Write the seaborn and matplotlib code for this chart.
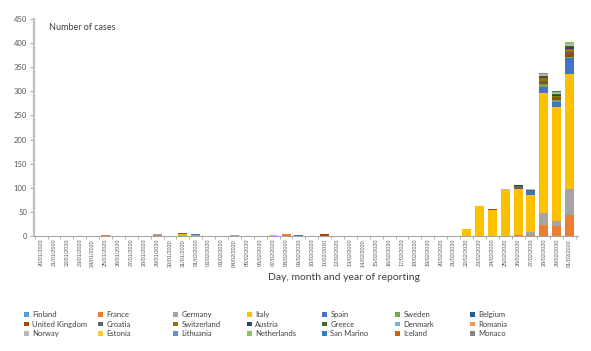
import matplotlib
matplotlib.use("Agg")
import matplotlib.pyplot as plt
import seaborn as sns
import numpy as np
from matplotlib.patches import Patch

sns.set_theme(style="ticks")
plt.rcParams['font.family'] = ['Lato', 'DejaVu Sans']

dates = ["20/01/2020", "21/01/2020", "22/01/2020", "23/01/2020", "24/01/2020", "25/01/2020",
         "26/01/2020", "27/01/2020", "28/01/2020", "29/01/2020", "30/01/2020", "31/01/2020",
         "01/02/2020", "02/02/2020", "03/02/2020", "04/02/2020", "05/02/2020", "06/02/2020",
         "07/02/2020", "08/02/2020", "09/02/2020", "10/02/2020", "11/02/2020", "12/02/2020",
         "13/02/2020", "14/02/2020", "15/02/2020", "16/02/2020", "17/02/2020", "18/02/2020",
         "19/02/2020", "20/02/2020", "21/02/2020", "22/02/2020", "23/02/2020", "24/02/2020",
         "25/02/2020", "26/02/2020", "27/02/2020", "28/02/2020", "29/02/2020", "01/03/2020"]

countries = ["Finland", "France", "Germany", "Italy", "Spain", "Sweden", "Belgium",
             "United Kingdom", "Croatia", "Switzerland", "Austria", "Greece", "Denmark", "Romania",
             "Norway", "Estonia", "Lithuania", "Netherlands", "San Marino", "Iceland", "Monaco"]

colors = ["#5B9BD5", "#ED7D31", "#A5A5A5", "#FFC000", "#4472C4", "#70AD47", "#255E91",
          "#9E480E", "#636363", "#997300", "#264478", "#43682B", "#7CAFDD", "#F1975A",
          "#B7B7B7", "#FFCD33", "#698ED0", "#8CC168", "#327DC2", "#D26012", "#848484"]

finland     = [0,0,0,0,0,0,0,0,0,1, 0,0,0,0,0,0,0,0,0,0, 0,0,0,0,0,0,0,0,0,0, 0,0,0,0,0,0,0,0,0,0, 0,0]
france      = [0,0,0,0,0,3,0,0,0,1, 0,1,0,0,0,0,0,0,0,5, 0,1,0,0,0,0,0,0,1,0, 0,0,0,0,0,0,0,2,3,22, 21,43]
germany     = [0,0,0,0,0,0,0,0,1,2, 1,1,3,1,1,2,0,0,1,0, 1,0,0,1,0,0,0,0,0,0, 0,0,0,0,0,0,0,1,6,26, 10,54]
italy       = [0,0,0,0,0,0,0,0,0,0, 0,2,0,0,0,0,0,0,1,0, 0,0,0,0,0,0,0,0,0,0, 0,0,0,14,62,53,96,94,77,249, 237,239]
spain       = [0,0,0,0,0,0,0,0,0,0, 0,0,1,0,0,0,0,0,0,0, 1,0,0,0,0,0,0,0,0,0, 0,0,0,0,0,0,0,1,7,13, 10,33]
sweden      = [0,0,0,0,0,0,0,0,0,0, 0,0,0,0,0,0,0,0,0,0, 0,0,0,0,0,0,0,0,0,0, 0,0,0,0,0,0,0,0,0,5, 5,2]
belgium     = [0,0,0,0,0,0,0,0,0,0, 0,0,0,0,0,1,0,0,0,0, 0,0,0,0,0,0,0,0,0,0, 0,0,0,0,0,0,0,0,0,0, 0,1]
uk          = [0,0,0,0,0,0,0,0,0,0, 0,2,0,0,0,0,0,0,0,0, 0,0,4,0,1,0,0,0,0,0, 0,0,0,0,0,4,0,0,0,4, 3,8]
croatia     = [0,0,0,0,0,0,0,0,0,0, 0,0,0,0,0,0,0,0,0,0, 0,0,0,0,0,0,0,0,0,0, 0,0,0,0,0,0,0,5,2,2, 2,1]
switzerland = [0,0,0,0,0,0,0,0,0,0, 0,0,0,0,0,0,0,0,0,0, 0,0,0,0,0,0,0,0,0,0, 0,0,0,0,0,0,0,1,0,6, 3,6]
austria     = [0,0,0,0,0,0,0,0,0,0, 0,0,0,0,0,0,0,0,0,0, 0,0,0,0,0,0,0,0,0,0, 0,0,0,0,0,0,0,2,0,2, 2,4]
greece      = [0,0,0,0,0,0,0,0,0,0, 0,0,0,0,0,0,0,0,0,0, 0,0,0,0,0,0,0,0,0,0, 0,0,0,0,0,0,0,0,0,2, 1,3]
denmark     = [0,0,0,0,0,0,0,0,0,0, 0,0,0,0,0,0,0,0,0,0, 0,0,0,0,0,0,0,0,0,0, 0,0,0,0,0,0,0,0,0,1, 0,1]
romania     = [0,0,0,0,0,0,0,0,0,0, 0,0,0,0,0,0,0,0,0,0, 0,0,0,0,0,0,0,0,0,0, 0,0,0,0,0,0,0,0,0,1, 1,0]
norway      = [0,0,0,0,0,0,0,0,0,0, 0,0,0,0,0,0,0,0,0,0, 0,0,0,0,0,0,0,0,0,0, 0,0,0,0,0,0,1,0,2,2, 2,3]
estonia     = [0,0,0,0,0,0,0,0,0,0, 0,0,0,0,0,0,0,0,0,0, 0,0,0,0,0,0,0,0,0,0, 0,0,0,0,0,0,0,0,0,1, 0,0]
lithuania   = [0,0,0,0,0,0,0,0,0,0, 0,0,0,0,0,0,0,0,0,0, 0,0,0,0,0,0,0,0,0,0, 0,0,0,0,0,0,0,0,0,1, 0,0]
netherlands = [0,0,0,0,0,0,0,0,0,0, 0,0,0,0,0,0,0,0,0,0, 0,0,0,0,0,0,0,0,0,0, 0,0,0,0,0,0,0,0,0,1, 2,4]
san_marino  = [0,0,0,0,0,0,0,0,0,0, 0,0,0,0,0,0,0,0,0,0, 0,0,0,0,0,0,0,0,0,0, 0,0,0,0,0,0,0,0,0,0, 1,0]
iceland     = [0,0,0,0,0,0,0,0,0,0, 0,0,0,0,0,0,0,0,0,0, 0,0,0,0,0,0,0,0,0,0, 0,0,0,0,0,0,0,0,0,1, 0,0]
monaco      = [0,0,0,0,0,0,0,0,0,0, 0,0,0,0,0,0,0,0,0,0, 0,0,0,0,0,0,0,0,0,0, 0,0,0,0,0,0,0,0,0,0, 1,0]

series = [finland, france, germany, italy, spain, sweden, belgium, uk, croatia, switzerland,
          austria, greece, denmark, romania, norway, estonia, lithuania, netherlands,
          san_marino, iceland, monaco]
for s in series:
    assert len(s) == len(dates)

cum = np.cumsum(np.array(series, dtype=float), axis=0)

W, H = 591, 351
fig = plt.figure(figsize=(W / 100, H / 100), dpi=100)
ax = fig.add_axes([34 / W, 1 - 236 / H, 544 / W, 217 / H])

# stacked bars: draw cumulative totals from top layer down
for k in range(len(countries) - 1, -1, -1):
    sns.barplot(x=dates, y=cum[k], color=colors[k], saturation=1, width=0.7,
                errorbar=None, linewidth=0, ax=ax)

ax.set_xlim(-0.55, 41.65)
ax.set_ylim(0, 450)
ax.set_yticks(range(0, 451, 50))
ax.set_xlabel("")
ax.set_ylabel("")
sns.despine(ax=ax)
ax.spines['left'].set_color('#BFBFBF')
ax.spines['left'].set_linewidth(1.6)
ax.spines['bottom'].set_color('#A6A6A6')
ax.spines['bottom'].set_linewidth(0.8)

ax.tick_params(axis='y', length=3, width=0.7, color='#A6A6A6', labelsize=5.5,
               labelcolor='#595959', pad=2)
ax.tick_params(axis='x', which='major', length=0, labelsize=4, labelcolor='#595959',
               pad=2, labelrotation=90)
ax.set_xticks(np.arange(-0.5, 41.6, 1), minor=True)
ax.tick_params(axis='x', which='minor', length=2.5, width=0.6, color='#A6A6A6')
for lab in ax.get_xticklabels():
    lab.set_family(['Liberation Sans', 'DejaVu Sans'])

fig.text(49 / W, 1 - 28 / H, "Number of cases", ha='left', va='center',
         fontsize=6.5, color='#404040')
fig.text(343.5 / W, 1 - 277 / H, "Day, month and year of reporting", ha='center',
         va='center', fontsize=7.5, color='#404040')

col_x = [24, 98, 173, 247, 322, 395, 470]
for c in range(7):
    idx = [r * 7 + c for r in range(3)]
    handles = [Patch(facecolor=colors[i], edgecolor='none') for i in idx]
    labels = [countries[i] for i in idx]
    fig.legend(handles, labels, loc='upper left', bbox_to_anchor=(col_x[c] / W, 1 - 311 / H),
               frameon=False, fontsize=5.5, handlelength=0.6, handleheight=0.6,
               handletextpad=0.5, labelspacing=0.35, borderpad=0, borderaxespad=0,
               labelcolor='#404040')

fig.savefig("out.png", dpi=100)
